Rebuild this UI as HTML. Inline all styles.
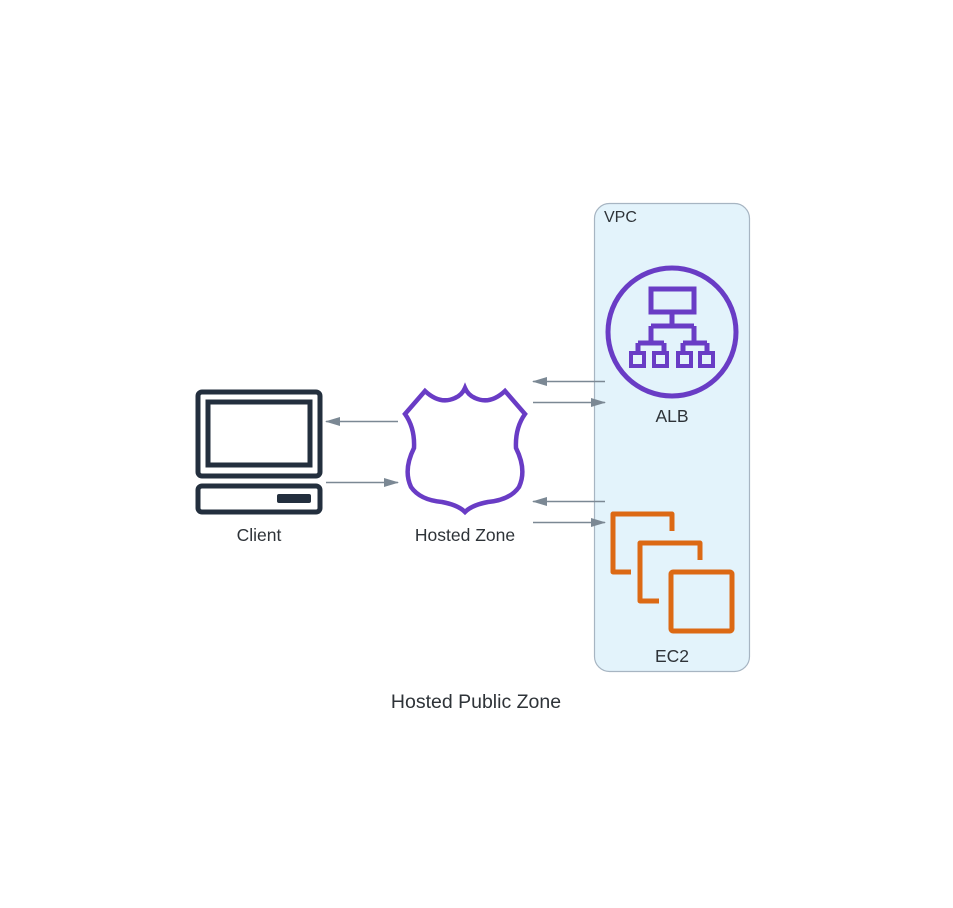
<!DOCTYPE html>
<html><head><style>html,body{margin:0;padding:0;background:#fff}svg{display:block}text{font-family:"Liberation Sans",sans-serif;fill:#2e3338}</style></head><body>
<svg width="953" height="908" viewBox="0 0 953 908" xmlns="http://www.w3.org/2000/svg">
<defs><marker id="a" markerWidth="15" markerHeight="10" refX="14" refY="5" orient="auto" markerUnits="userSpaceOnUse"><path d="M0,0.5 L15,5 L0,9.5 z" fill="#7b8894"/></marker></defs>
<rect x="594.5" y="203.5" width="155" height="468" rx="15" fill="#e3f3fb" stroke="#a7b5c2" stroke-width="1.2"/>
<text x="604" y="222" font-size="16">VPC</text>
<!-- ALB -->
<g fill="none" stroke="#693cc5" stroke-width="5">
<circle cx="672" cy="332" r="64"/>
<rect x="651" y="289" width="43" height="23"/>
<path d="M672 312V326M651 326H694M651 326V343M694 326V343M638 343H664M683 343H707M638 343V353M664 343V353M683 343V353M707 343V353"/>
</g>
<g fill="none" stroke="#693cc5" stroke-width="4">
<rect x="631" y="353" width="13" height="13"/><rect x="654" y="353" width="13" height="13"/><rect x="678" y="353" width="13" height="13"/><rect x="700" y="353" width="13" height="13"/>
</g>
<text x="672" y="422" font-size="17.5" text-anchor="middle">ALB</text>
<!-- EC2 -->
<g fill="none" stroke="#dc6914" stroke-width="5" stroke-linejoin="round">
<path d="M631 572H613V514H672V531"/>
<path d="M659 601H640V543H700V560"/>
<rect x="671" y="572" width="61" height="59" rx="2"/>
</g>
<text x="672" y="662" font-size="17.5" text-anchor="middle">EC2</text>
<!-- Client -->
<g fill="none" stroke="#232f3e" stroke-width="5">
<rect x="198" y="392" width="122" height="84" rx="4"/>
<rect x="208" y="402" width="102" height="63"/>
<rect x="198" y="486" width="122" height="26" rx="4"/>
</g>
<rect x="277" y="494" width="34" height="9" rx="2" fill="#232f3e"/>
<text x="259" y="541" font-size="17.5" text-anchor="middle">Client</text>
<!-- Shield -->
<path d="M405 414 L425 391 Q440 405 455 398 Q462 395 465 388 Q468 395 475 398 Q490 405 505 391 L525 414 Q515 428 516 448 Q527 470 519 487 Q510 500 488 502 Q472 505 465 512 Q458 505 442 502 Q420 500 411 487 Q403 470 414 448 Q415 428 405 414 Z" fill="none" stroke="#693cc5" stroke-width="4.5" stroke-linejoin="miter"/>
<text x="465" y="541" font-size="17.5" text-anchor="middle">Hosted Zone</text>
<!-- arrows -->
<g stroke="#7b8894" stroke-width="1.5" marker-end="url(#a)">
<line x1="398" y1="421.5" x2="326" y2="421.5"/>
<line x1="326" y1="482.5" x2="398" y2="482.5"/>
<line x1="605" y1="381.5" x2="533" y2="381.5"/>
<line x1="533" y1="402.5" x2="605" y2="402.5"/>
<line x1="605" y1="501.5" x2="533" y2="501.5"/>
<line x1="533" y1="522.5" x2="605" y2="522.5"/>
</g>
<text x="476" y="708" font-size="19.5" text-anchor="middle">Hosted Public Zone</text>
</svg>
</body></html>
